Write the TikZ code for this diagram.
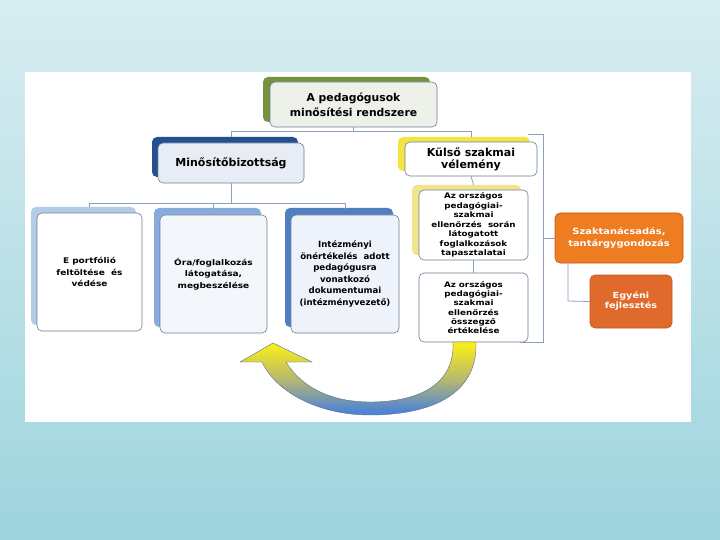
\documentclass[tikz,border=0pt]{standalone}
\usepackage{fontspec}
\setmainfont{DejaVu Sans}
\newfontfamily\vb{DejaVu Sans Bold}
\newfontfamily\vbw[FakeStretch=1.15]{DejaVu Sans Bold}
\definecolor{bgtop}{RGB}{216,237,241}
\definecolor{bgbot}{RGB}{158,212,221}
\definecolor{conn}{RGB}{140,160,192}
\definecolor{bord}{RGB}{110,125,150}
\definecolor{gshadow}{RGB}{118,146,60}
\definecolor{dbshadow}{RGB}{35,80,145}
\definecolor{yshadow}{RGB}{243,228,67}
\definecolor{yshadowl}{RGB}{240,228,140}
\definecolor{lb1}{RGB}{178,203,232}
\definecolor{lb2}{RGB}{135,172,220}
\definecolor{lb3}{RGB}{79,127,192}
\definecolor{orng}{RGB}{238,125,34}
\definecolor{orngd}{RGB}{224,105,44}
\definecolor{orngb}{RGB}{190,90,30}
\definecolor{ayel}{RGB}{245,235,30}
\definecolor{ablu}{RGB}{80,132,212}
\definecolor{amid}{RGB}{185,185,110}
\definecolor{aline}{RGB}{90,110,140}
\definecolor{f1}{RGB}{238,240,234}
\definecolor{f2}{RGB}{232,237,245}
\definecolor{f3}{RGB}{243,246,251}
\definecolor{f4}{RGB}{238,242,250}
\pgfdeclareverticalshading{arrsh}{100bp}{color(0bp)=(ablu); color(28bp)=(ablu); color(50bp)=(amid); color(72bp)=(ayel); color(100bp)=(ayel)}
\tikzset{
  frontbox/.style={draw=bord, line width=0.6pt, rounded corners=5pt, inner sep=0pt, align=center},
  backbox/.style={rounded corners=5pt},
  conline/.style={draw=conn, line width=0.8pt},
  orangebox/.style={draw=orngb, line width=0.6pt, rounded corners=5pt, inner sep=0pt, align=center, text=white},
}
\begin{document}
\begin{tikzpicture}[x=1pt,y=-1pt]
% background
\shade[top color=bgtop, bottom color=bgbot] (0,0) rectangle (720,540);
\useasboundingbox (0,0) rectangle (720,540);
\fill[white] (25,72) rectangle (691,422);

% coordinates for connectors
\coordinate (h1) at (0,131);
\coordinate (h2) at (0,203);
\coordinate (brt) at (528,134);
\coordinate (brtr) at (543,134);
\coordinate (brbr) at (543,342);
\coordinate (brb) at (520,342);
\coordinate (brm) at (543,238);
\coordinate (ot) at (568,263);
\coordinate (ob) at (568,301);

% shadows
\fill[backbox, gshadow] (263,77) rectangle (430,122);
\fill[backbox, dbshadow] (152,137) rectangle (298,177);
\fill[backbox, yshadow] (398,137) rectangle (530,171);
\fill[backbox, lb1] (31,207) rectangle (136,325);
\fill[backbox, lb2] (154,208) rectangle (261,327);
\fill[backbox, lb3] (285,208) rectangle (393,327);
\fill[backbox, yshadowl] (412,185) rectangle (521,255);

% nodes
\node[frontbox, fill=f1, minimum width=167pt, minimum height=45pt,
  font=\vb\fontsize{10.8}{15}\selectfont] (top) at (353.5,104.5) {A pedagógusok\\minősítési rendszere};
\node[frontbox, fill=f2, minimum width=146pt, minimum height=40pt,
  font=\vb\fontsize{11}{13}\selectfont] (mb) at (231,163) {Minősítőbizottság};
\node[frontbox, fill=white, minimum width=132pt, minimum height=34pt,
  font=\vb\fontsize{11}{12}\selectfont] (ks) at (471,159) {Külső szakmai\\vélemény};

\node[frontbox, fill=white, minimum width=105pt, minimum height=118pt,
  font=\vbw\fontsize{7.8}{11.3}\selectfont] (b1) at (89.5,272) {E portfólió\\feltöltése~ és\\védése};
\node[frontbox, fill=f3, minimum width=107pt, minimum height=118pt,
  font=\vbw\fontsize{7.8}{11.5}\selectfont] (b2) at (213.5,274) {Óra/foglalkozás\\látogatása,\\megbeszélése};
\node[frontbox, fill=f4, minimum width=108pt, minimum height=118pt,
  font=\vb\fontsize{8.6}{11.5}\selectfont] (b3) at (345,274) {Intézményi\\önértékelés~ adott\\pedagógusra\\vonatkozó\\dokumentumai\\(intézményvezető)};

\node[frontbox, fill=white, minimum width=109pt, minimum height=70pt,
  font=\vbw\fontsize{7.6}{9.5}\selectfont] (ba) at (473.5,225) {Az országos\\pedagógiai-\\szakmai\\ellenőrzés~ során\\látogatott\\foglalkozások\\tapasztalatai};
\node[frontbox, fill=white, minimum width=109pt, minimum height=69pt,
  font=\vbw\fontsize{7.6}{9.3}\selectfont] (bb) at (473.5,307.5) {Az országos\\pedagógiai-\\szakmai\\ellenőrzés\\összegző\\értékelése};

\node[orangebox, fill=orng, minimum width=128pt, minimum height=50pt,
  font=\vbw\fontsize{8.6}{12}\selectfont] (o1) at (619,238) {Szaktanácsadás,\\tantárgygondozás};
\node[orangebox, fill=orngd, minimum width=82pt, minimum height=53pt,
  font=\vbw\fontsize{8.4}{10}\selectfont] (o2) at (631,301.5) {Egyéni\\fejlesztés};

% connectors
\draw[conline] (top.south) -- (top.south |- h1);
\draw[conline] (mb.north |- h1) -- (ks.north |- h1);
\draw[conline] (mb.north |- h1) -- ([yshift=6pt]mb.north);
\draw[conline] (ks.north |- h1) -- ([yshift=5pt]ks.north);
\draw[conline] (mb.south) -- (mb.south |- h2);
\draw[conline] (b1.north |- h2) -- (b3.north |- h2);
\draw[conline] (b1.north |- h2) -- ([yshift=6pt]b1.north);
\draw[conline] (b2.north |- h2) -- ([yshift=6pt]b2.north);
\draw[conline] (b3.north |- h2) -- ([yshift=6pt]b3.north);
\draw[conline] (ks.south) -- ([yshift=5pt]ba.north);
\draw[conline] (ba.south) -- (bb.north);
\draw[conline] (brt) -- (brtr) -- (brbr) -- (brb);
\draw[conline] (brm) -- (o1.west);
\draw[conline] (ot) -- (ob) -- (o2.west);

% curved arrow
\shade[shading=arrsh, draw=aline, line width=0.4pt]
  (453,342) -- (476,342)
  .. controls (478,398) and (425,415) .. (370,415)
  .. controls (318,415) and (276,392) .. (262,362)
  -- (240,362) -- (273,343) -- (312,362) -- (286,362)
  .. controls (302,388) and (332,402) .. (370,402)
  .. controls (418,402) and (455,385) .. (453,342) -- cycle;
\end{tikzpicture}
\end{document}
